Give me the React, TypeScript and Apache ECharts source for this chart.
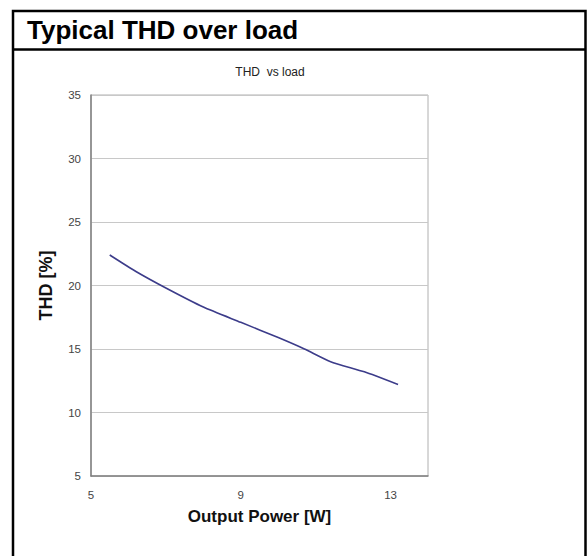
import React, { useEffect, useRef } from "react";
import * as echarts from "echarts";

const powerW = [5.5, 6.2, 7.0, 8.0, 9.0, 10.0, 10.7, 11.4, 12.3, 13.2];
const thdPct = [22.4, 21.1, 19.8, 18.3, 17.1, 15.9, 15.0, 14.0, 13.2, 12.2];
const xTicks = [5, 9, 13];
const yTicks = [5, 10, 15, 20, 25, 30, 35];

const pageTitle = "Typical THD over load";
const chartTitle = "THD  vs load";
const xName = "Output Power [W]";
const yName = "THD [%]";

export default function App() {
  const ref = useRef<HTMLDivElement>(null);
  useEffect(() => {
    if (!ref.current) return;
    const chart = echarts.init(ref.current, null, { renderer: "svg" });
    const font = "'Liberation Sans', Arial, sans-serif";
    chart.setOption({
      animation: false,
      backgroundColor: "#ffffff",
      grid: {
        left: 91,
        top: 95,
        right: 588 - 428,
        bottom: 556 - 476,
        show: true,
        borderColor: "#b0b0b0",
        borderWidth: 1,
      },
      xAxis: {
        type: "value",
        min: 5,
        max: 14,
        interval: 4,
        name: xName,
        nameLocation: "middle",
        nameGap: 32,
        nameTextStyle: { fontFamily: font, fontWeight: "bold", fontSize: 17, color: "#111" },
        axisLine: { show: true, lineStyle: { color: "#808080", width: 1.5 } },
        axisTick: { show: false },
        splitLine: { show: false },
        axisLabel: {
          fontFamily: font,
          fontSize: 11.5,
          color: "#444",
          margin: 13,
          formatter: (v: number) => (xTicks.includes(v) ? String(v) : ""),
        },
      },
      yAxis: {
        type: "value",
        min: yTicks[0],
        max: yTicks[yTicks.length - 1],
        interval: 5,
        name: yName,
        nameLocation: "middle",
        nameGap: 36,
        nameRotate: 90,
        nameTextStyle: { fontFamily: font, fontWeight: "bold", fontSize: 18, color: "#111" },
        axisLine: { show: true, lineStyle: { color: "#808080", width: 1.5 } },
        axisTick: { show: false },
        splitLine: { show: true, lineStyle: { color: "#c8c8c8", width: 1 } },
        axisLabel: { fontFamily: font, fontSize: 11.5, color: "#444", margin: 10 },
      },
      series: [
        {
          type: "line",
          data: powerW.map((x, i) => [x, thdPct[i]]),
          showSymbol: false,
          smooth: 0.2,
          lineStyle: { color: "#3c3c8a", width: 1.6 },
        },
      ],
      graphic: [
        {
          type: "rect",
          shape: { x: 13, y: 11, width: 572.5, height: 560 },
          style: { fill: "none", stroke: "#000", lineWidth: 2.5 },
          silent: true,
        },
        {
          type: "line",
          shape: { x1: 13, y1: 49.5, x2: 585.5, y2: 49.5 },
          style: { stroke: "#000", lineWidth: 2.5 },
          silent: true,
        },
        {
          type: "text",
          x: 27,
          y: 30,
          style: {
            text: pageTitle,
            fontFamily: font,
            fontWeight: "bold",
            fontSize: 26,
            fill: "#000",
            textAlign: "left",
            textVerticalAlign: "middle",
          },
        },
        {
          type: "text",
          x: 270,
          y: 72,
          style: {
            text: chartTitle,
            fontFamily: font,
            fontSize: 12,
            fill: "#222",
            textAlign: "center",
            textVerticalAlign: "middle",
          },
        },
      ],
    });
    return () => chart.dispose();
  }, []);
  return (
    <div
      ref={ref}
      style={{ position: "fixed", left: 0, top: 0, width: 588, height: 556 }}
    />
  );
}
